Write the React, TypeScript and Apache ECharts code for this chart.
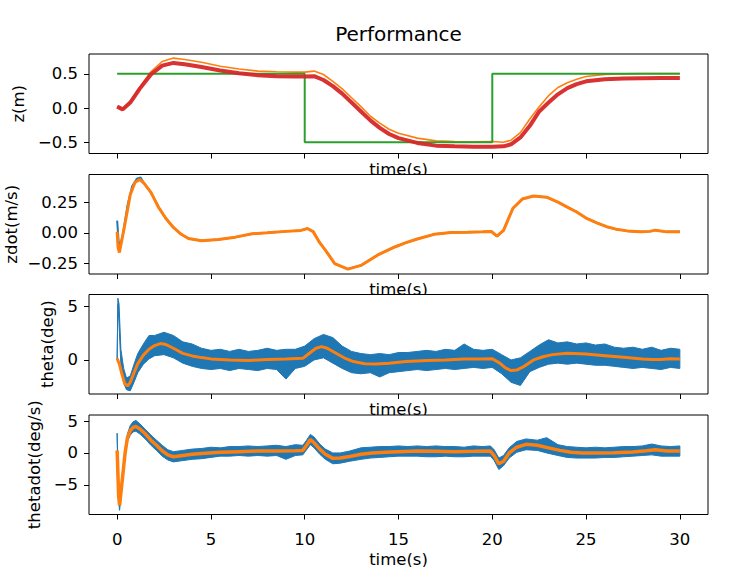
import React, { useEffect, useRef } from "react";
import * as echarts from "echarts";

// ---------- tick values ----------
const timeTicks = [0, 5, 10, 15, 20, 25, 30];
const zTicks = [-0.5, 0, 0.5];
const zdotTicks = [-0.25, 0, 0.25];
const thetaTicks = [0, 5];
const thetadotTicks = [-5, 0, 5];

// ---------- panel 1 : z(m) ----------
const zRefT = [0, 10, 10, 20, 20, 30];
const zRef = [0.5, 0.5, -0.5, -0.5, 0.5, 0.5];
const zT = [0, 0.3, 0.7, 1.2, 1.8, 2.4, 3.0, 3.6, 4.5, 5.5,
  6.5, 7.5, 8.5, 9.5, 10.0, 10.5, 11.0, 11.5, 12.0, 12.5,
  13.0, 13.5, 14.0, 14.5, 15.0, 16.0, 17.0, 18.0, 19.0, 20.0,
  20.6, 21.0, 21.5, 22.0, 22.5, 23.0, 23.5, 24.0, 24.5, 25.0,
  26.0, 27.0, 28.0, 29.0, 30.0];
const zHat = [0.02, -0.02, 0.09, 0.30, 0.53, 0.68, 0.73, 0.71, 0.67, 0.61,
  0.57, 0.54, 0.53, 0.525, 0.525, 0.54, 0.49, 0.39, 0.28, 0.15,
  0.02, -0.12, -0.22, -0.31, -0.37, -0.44, -0.48, -0.49, -0.495, -0.49,
  -0.50, -0.47, -0.36, -0.16, 0.02, 0.18, 0.30, 0.37, 0.42, 0.46,
  0.49, 0.50, 0.505, 0.505, 0.505];
const zMeas = [0.02, -0.02, 0.08, 0.28, 0.49, 0.62, 0.66, 0.64, 0.60, 0.55,
  0.51, 0.48, 0.465, 0.46, 0.46, 0.465, 0.41, 0.32, 0.21, 0.08,
  -0.05, -0.18, -0.29, -0.38, -0.44, -0.51, -0.55, -0.56, -0.565, -0.565,
  -0.56, -0.53, -0.43, -0.26, -0.05, 0.08, 0.20, 0.29, 0.35, 0.39,
  0.42, 0.43, 0.435, 0.44, 0.44];

// ---------- panel 2 : zdot(m/s) ----------
const zdT = [0, 0.05, 0.12, 0.25, 0.45, 0.7, 0.95, 1.2, 1.45, 1.8,
  2.2, 2.6, 3.0, 3.4, 3.8, 4.5, 5.4, 6.3, 7.2, 8.0,
  9.0, 9.8, 10.15, 10.45, 10.8, 11.1, 11.6, 12.3, 13.0, 13.9,
  14.8, 15.4, 16.0, 16.9, 17.8, 18.7, 19.5, 19.95, 20.25, 20.6,
  21.1, 21.6, 22.2, 22.9, 23.5, 24.0, 24.5, 25.0, 25.6, 26.1,
  26.6, 27.2, 27.9, 28.4, 28.7, 29.3, 30.0];
const zdHat = [0.01, -0.12, -0.16, -0.06, 0.10, 0.31, 0.41, 0.435, 0.40, 0.33,
  0.21, 0.117, 0.044, -0.01, -0.046, -0.065, -0.055, -0.035, -0.008, 0.0,
  0.012, 0.02, 0.035, 0.01, -0.08, -0.14, -0.25, -0.295, -0.265, -0.18,
  -0.115, -0.08, -0.05, -0.012, 0.003, 0.005, 0.008, 0.011, -0.027, 0.02,
  0.20, 0.275, 0.30, 0.29, 0.25, 0.21, 0.17, 0.12, 0.08, 0.05,
  0.03, 0.016, 0.008, 0.012, 0.022, 0.008, 0.008];
const zdRawT = [0, 0.08, 0.15, 0.3, 0.55, 0.8, 1.05, 1.25, 1.45, 1.8,
  2.2, 2.6, 3.0, 3.4, 3.8, 4.5, 5.4, 6.3, 7.2, 8.0,
  9.0, 9.8, 10.15, 10.45, 10.8, 11.1, 11.6, 12.3, 13.0, 13.9,
  14.8, 15.4, 16.0, 16.9, 17.8, 18.7, 19.5, 19.95, 20.25, 20.6,
  21.1, 21.6, 22.2, 22.9, 23.5, 24.0, 24.5, 25.0, 25.6, 26.1,
  26.6, 27.2, 27.9, 28.4, 28.7, 29.3, 30.0];
const zdRaw = [0.10, -0.07, -0.11, -0.02, 0.22, 0.38, 0.44, 0.45, 0.40, 0.33,
  0.21, 0.117, 0.044, -0.01, -0.046, -0.065, -0.055, -0.035, -0.008, 0.0,
  0.012, 0.02, 0.035, 0.01, -0.08, -0.14, -0.25, -0.295, -0.265, -0.18,
  -0.115, -0.08, -0.05, -0.012, 0.003, 0.005, 0.008, 0.011, -0.027, 0.02,
  0.20, 0.275, 0.30, 0.29, 0.25, 0.21, 0.17, 0.12, 0.08, 0.05,
  0.03, 0.016, 0.008, 0.012, 0.022, 0.008, 0.008];

// ---------- panel 3 : theta(deg) ----------
const thT = [0, 0.12, 0.25, 0.4, 0.55, 0.7, 0.9, 1.1, 1.4, 1.7,
  2.0, 2.3, 2.6, 3.0, 3.5, 4.0, 4.5, 5.0, 6.0, 7.0,
  8.0, 9.0, 9.9, 10.3, 10.6, 10.9, 11.2, 11.6, 12.1, 12.6,
  13.2, 13.8, 14.5, 15.4, 16.5, 17.5, 18.5, 19.5, 20.0, 20.4,
  20.7, 21.0, 21.3, 21.7, 22.2, 22.7, 23.2, 24.0, 25.0, 26.0,
  27.0, 28.0, 28.5, 29.0, 29.5, 30.0];
const thHat = [0.15, -0.4, -1.3, -2.2, -2.45, -2.1, -1.2, -0.35, 0.45, 1.0,
  1.35, 1.54, 1.45, 1.1, 0.62, 0.38, 0.22, 0.1, 0.0, -0.05,
  0.05, 0.1, 0.15, 0.7, 1.1, 1.25, 1.1, 0.7, 0.2, -0.15,
  -0.35, -0.38, -0.3, -0.15, -0.05, 0.0, 0.08, 0.1, 0.12, -0.3,
  -0.75, -1.0, -0.95, -0.6, 0.0, 0.3, 0.5, 0.62, 0.55, 0.4,
  0.25, 0.1, 0.05, 0.05, 0.12, 0.1];
// raw (noisy) theta: envelope of the measured band
const thBandT = [0, 0.04, 0.1, 0.2, 0.35, 0.5, 0.7, 0.9, 1.1, 1.4,
  1.7, 2.0, 2.5, 3.0, 3.5, 4.0, 4.5, 5.0, 5.5, 6.0,
  6.5, 7.0, 7.5, 8.0, 8.5, 9.0, 9.5, 10.0, 10.5, 11.0,
  11.5, 12.0, 12.5, 13.0, 13.5, 14.0, 14.5, 15.0, 15.5, 16.0,
  16.5, 17.0, 17.5, 18.0, 18.5, 19.0, 19.5, 20.0, 20.5, 21.0,
  21.5, 22.0, 22.5, 23.0, 23.5, 24.0, 24.5, 25.0, 25.5, 26.0,
  26.5, 27.0, 27.5, 28.0, 28.5, 29.0, 29.5, 30.0];
const thHi = [0.2, 5.8, 5.3, 1.0, -0.8, -1.7, -1.5, -0.4, 0.6, 1.5,
  2.3, 2.3, 2.6, 2.3, 1.7, 1.5, 1.1, 0.9, 1.0, 0.8,
  1.0, 0.8, 0.9, 1.1, 0.9, 1.0, 1.0, 1.3, 2.0, 2.4,
  2.1, 1.3, 0.8, 0.6, 0.5, 0.6, 0.5, 0.7, 0.7, 0.8,
  0.9, 0.8, 1.0, 0.9, 1.5, 1.0, 0.9, 1.0, 0.5, 0.0,
  0.2, 0.8, 1.4, 1.9, 1.6, 1.7, 1.5, 1.6, 1.4, 1.5,
  1.2, 1.1, 1.2, 1.0, 1.2, 0.9, 1.1, 1.0];
const thLo = [0.0, 5.2, 3.5, -0.5, -2.2, -2.8, -2.9, -2.1, -1.2, -0.4,
  0.1, 0.4, 0.5, 0.2, -0.3, -0.6, -0.8, -0.9, -0.8, -1.0,
  -0.8, -0.9, -1.0, -0.8, -0.9, -1.8, -0.8, -0.6, 0.0, 0.2,
  -0.3, -0.8, -1.2, -1.3, -1.2, -1.6, -1.2, -1.1, -1.0, -0.9,
  -1.0, -0.9, -0.8, -0.9, -0.8, -0.7, -0.8, -0.7, -1.3, -2.1,
  -2.4, -1.1, -0.7, -0.4, -0.3, -0.4, -0.3, -0.4, -0.5, -0.5,
  -0.6, -0.7, -0.8, -0.7, -0.8, -0.9, -0.7, -0.8];

// ---------- panel 4 : thetadot(deg/s) ----------
const tdT = [0, 0.04, 0.08, 0.13, 0.2, 0.3, 0.42, 0.55, 0.7, 0.85,
  1.0, 1.2, 1.5, 1.8, 2.1, 2.4, 2.7, 3.0, 3.5, 4.0,
  4.5, 5.5, 6.5, 7.5, 8.5, 9.5, 9.9, 10.1, 10.3, 10.5,
  10.8, 11.1, 11.5, 11.9, 12.4, 13.0, 13.6, 14.3, 15.0, 16.0,
  17.0, 18.0, 19.0, 19.9, 20.1, 20.35, 20.6, 20.9, 21.3, 21.8,
  22.4, 23.0, 23.6, 24.2, 24.8, 25.5, 26.5, 27.5, 28.2, 28.7,
  29.3, 30.0];
const tdHat = [0.4, -3.2, -6.8, -8.2, -6.3, -3.5, -0.1, 2.4, 3.5, 4.0,
  4.15, 3.8, 3.0, 2.0, 1.2, 0.35, -0.3, -0.6, -0.4, -0.2,
  -0.1, 0.1, 0.2, 0.3, 0.3, 0.35, 0.4, 1.2, 2.1, 1.6,
  0.6, -0.2, -0.85, -0.8, -0.55, -0.2, 0.0, 0.1, 0.2, 0.3,
  0.25, 0.2, 0.25, 0.3, -0.4, -1.7, -1.3, 0.0, 0.9, 1.35,
  1.2, 0.8, 0.4, 0.1, 0.0, 0.0, 0.05, 0.15, 0.35, 0.5,
  0.3, 0.3];
const tdBandT = [0, 0.04, 0.08, 0.13, 0.2, 0.3, 0.42, 0.55, 0.7, 0.85,
  1.0, 1.2, 1.5, 1.8, 2.1, 2.4, 2.7, 3.0, 3.5, 4.0,
  4.5, 5.0, 5.5, 6.0, 6.5, 7.0, 7.5, 8.0, 8.5, 9.0,
  9.5, 9.9, 10.1, 10.3, 10.5, 10.8, 11.1, 11.5, 11.9, 12.4,
  13.0, 13.5, 14.0, 14.5, 15.0, 15.5, 16.0, 16.5, 17.0, 17.5,
  18.0, 18.5, 19.0, 19.5, 19.9, 20.1, 20.35, 20.6, 20.9, 21.3,
  21.8, 22.4, 22.9, 23.5, 24.0, 24.5, 25.0, 25.5, 26.0, 26.5,
  27.0, 27.5, 28.0, 28.5, 29.0, 29.5, 30.0];
const tdHi = [3.1, -2.0, -6.0, -7.8, -5.8, -3.0, 0.6, 3.0, 4.3, 4.9,
  5.1, 4.6, 3.7, 2.8, 2.0, 1.2, 0.5, 0.2, 0.4, 0.6,
  0.7, 0.9, 0.8, 1.0, 1.0, 1.1, 1.0, 1.1, 1.2, 1.0,
  1.3, 1.2, 2.0, 2.9, 2.5, 1.4, 0.6, 0.0, 0.0, 0.3,
  0.8, 0.9, 1.0, 1.0, 1.1, 1.0, 1.1, 1.0, 1.1, 1.0,
  1.0, 0.9, 1.1, 1.0, 1.1, 0.5, -0.8, -0.4, 0.8, 1.8,
  2.2, 2.0, 2.4, 1.3, 1.0, 0.9, 0.8, 0.9, 0.8, 0.9,
  1.0, 1.0, 1.1, 1.4, 1.1, 1.0, 1.1];
const tdLo = [2.6, -3.8, -7.5, -9.0, -7.2, -4.2, -0.8, 1.8, 2.8, 3.3,
  3.4, 3.0, 2.2, 1.2, 0.4, -0.5, -1.1, -1.4, -1.2, -1.0,
  -0.9, -0.7, -0.5, -0.5, -0.4, -0.5, -0.4, -0.5, -0.4, -1.0,
  -0.4, -0.3, 0.5, 1.3, 0.8, -0.2, -1.0, -1.7, -1.6, -1.3,
  -1.0, -0.8, -0.7, -0.6, -0.5, -0.5, -0.5, -0.6, -0.6, -0.5,
  -0.6, -0.6, -0.5, -0.5, -0.5, -1.2, -2.6, -2.0, -0.8, 0.1,
  0.5, 0.4, 0.0, -0.4, -0.7, -0.8, -0.8, -0.8, -0.7, -0.7,
  -0.6, -0.5, -0.4, -0.3, -0.5, -0.5, -0.5];

// ---------- styling ----------
const BLUE = "#1f77b4";
const ORANGE = "#ff7f0e";
const GREEN = "#2ca02c";
const RED = "#d62728";
const FONT = "DejaVu Sans";
const FS = 16.5;

const pairs = (t: number[], v: number[]) => t.map((x, i) => [x, v[i]]);
const fmt = (v: number, dec: number) => v.toFixed(dec).replace("-", "\u2212");

const GRID_LEFT = 89;
const GRID_W = 619;
const GRID_H = 99.5;
const GRID_TOPS = [54, 174.5, 294.5, 415];

function xAxis(i: number) {
  return {
    type: "value",
    gridIndex: i,
    min: -1.5,
    max: 31.5,
    name: "time(s)",
    nameLocation: "middle",
    nameGap: i === 3 ? 36 : 7,
    nameMoveOverlap: false,
    nameTextStyle: { color: "#000", fontSize: FS, fontFamily: FONT },
    axisLine: { show: false, onZero: false },
    axisTick: { show: true, length: 5, customValues: timeTicks, lineStyle: { color: "#000", width: 1 } },
    axisLabel: {
      show: i === 3,
      customValues: timeTicks,
      margin: 16,
      color: "#000",
      fontSize: FS,
      fontFamily: FONT,
      formatter: (v: number) => fmt(v, 0),
    },
    splitLine: { show: false },
  };
}

function yAxis(i: number, min: number, max: number, ticks: number[], name: string, gap: number, dec: number) {
  return {
    type: "value",
    gridIndex: i,
    min,
    max,
    name,
    nameLocation: "middle",
    nameGap: gap,
    nameMoveOverlap: false,
    nameTextStyle: { color: "#000", fontSize: FS, fontFamily: FONT },
    axisLine: { show: false, onZero: false },
    axisTick: { show: true, length: 5, customValues: ticks, lineStyle: { color: "#000", width: 1 } },
    axisLabel: {
      customValues: ticks,
      margin: 11,
      color: "#000",
      fontSize: FS,
      fontFamily: FONT,
      formatter: (v: number) => fmt(v, dec),
    },
    splitLine: { show: false },
  };
}

function line(i: number, data: number[][], color: string, width: number, z = 2, opacity = 1) {
  return {
    type: "line",
    xAxisIndex: i,
    yAxisIndex: i,
    data,
    symbol: "none",
    showSymbol: false,
    lineStyle: { color, width, opacity },
    z,
  };
}

// noisy measurement drawn as a filled band between its lower and upper envelope
function band(i: number, t: number[], lo: number[], hi: number[]) {
  return {
    type: "custom",
    xAxisIndex: i,
    yAxisIndex: i,
    data: t.map((x, k) => [x, lo[k], hi[k]]),
    encode: { x: 0, y: [1, 2] },
    z: 2,
    renderItem: (params: any, api: any) => {
      if (params.dataIndex !== 0) return null;
      const n = t.length;
      const upper: number[][] = [];
      const lower: number[][] = [];
      for (let k = 0; k < n; k++) {
        upper.push(api.coord([api.value(0, k), api.value(2, k)]));
        lower.push(api.coord([api.value(0, k), api.value(1, k)]));
      }
      const points = upper.concat(lower.reverse());
      return {
        type: "polygon",
        shape: { points },
        style: { fill: BLUE, stroke: BLUE, lineWidth: 1 },
      };
    },
  };
}

export default function App() {
  const ref = useRef<HTMLDivElement>(null);
  useEffect(() => {
    if (!ref.current) return;
    const chart = echarts.init(ref.current, undefined, { renderer: "svg" });
    const option: any = {
      animation: false,
      backgroundColor: "#fff",
      graphic: [
        {
          type: "text",
          x: GRID_LEFT + GRID_W / 2,
          y: 34,
          style: {
            text: "Performance",
            fill: "#000",
            font: `20px "${FONT}"`,
            align: "center",
            verticalAlign: "middle",
            textAlign: "center",
            textVerticalAlign: "middle",
          },
        },
      ],
      grid: GRID_TOPS.map((top) => ({
        left: GRID_LEFT,
        top,
        width: GRID_W,
        height: GRID_H,
        show: true,
        backgroundColor: "#fff",
        borderColor: "#000",
        borderWidth: 1,
        z: 1,
        outerBoundsMode: "none",
      })),
      xAxis: [0, 1, 2, 3].map((i) => xAxis(i)),
      yAxis: [
        yAxis(0, -0.665, 0.79, zTicks, "z(m)", 62, 1),
        yAxis(1, -0.335, 0.475, zdotTicks, "zdot(m/s)", 69, 2),
        yAxis(2, -3.2, 6.15, thetaTicks, "theta(deg)", 33, 0),
        yAxis(3, -9.65, 5.95, thetadotTicks, "thetadot(deg/s)", 46, 0),
      ],
      series: [
        // panel 1
        line(0, pairs(zT, zHat), ORANGE, 1.6, 2),
        line(0, pairs(zRefT, zRef), GREEN, 2, 3),
        line(0, pairs(zT, zMeas), RED, 4, 4, 0.95),
        // panel 2
        line(1, pairs(zdRawT, zdRaw), BLUE, 2, 2),
        line(1, pairs(zdT, zdHat), ORANGE, 3, 3),
        // panel 3
        band(2, thBandT, thLo, thHi),
        line(2, pairs(thT, thHat), ORANGE, 3, 3),
        // panel 4
        band(3, tdBandT, tdLo, tdHi),
        line(3, pairs(tdT, tdHat), ORANGE, 3.5, 3),
      ],
    };
    chart.setOption(option);
    return () => chart.dispose();
  }, []);
  return (
    <div
      ref={ref}
      style={{ position: "absolute", left: 0, top: 0, width: 731, height: 567 }}
    />
  );
}
